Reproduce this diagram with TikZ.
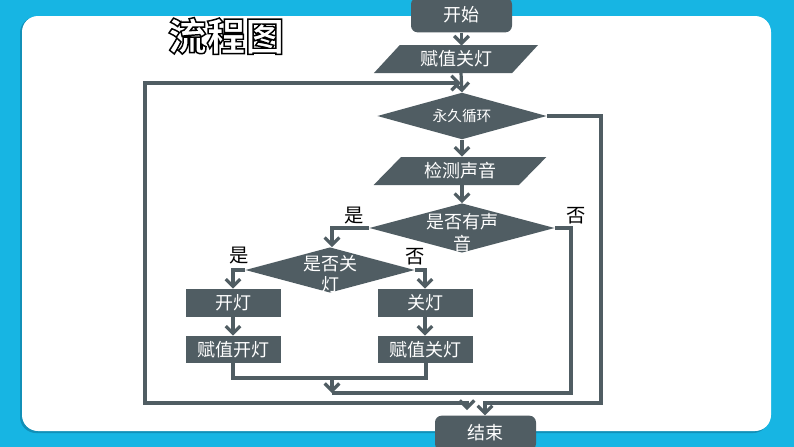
\documentclass[tikz,border=0pt]{standalone}
\usepackage{fontspec}
\newfontfamily\cjk{Noto Sans CJK SC}
\usetikzlibrary{arrows.meta,shapes.geometric,calc}
\definecolor{bgcyan}{HTML}{17B5E3}
\definecolor{shadowcyan}{HTML}{1190B8}
\definecolor{slate}{HTML}{505D63}
\newcommand{\outlinetext}[1]{\special{pdf:literal 2 Tr 1.1 w 0 G}#1\special{pdf:literal 0 Tr}}
\tikzset{
  box/.style={draw=none,fill=slate,text=white,font=\cjk\fontsize{13.5}{16}\selectfont,inner sep=0pt},
  termbox/.style={box,rounded corners=5pt},
  procbox/.style={box,minimum width=71.25pt,minimum height=21pt},
  iobox/.style={box,trapezium,trapezium left angle=45,trapezium right angle=135,trapezium stretches=true,minimum width=124pt,minimum height=21pt},
  decbox/.style={box,diamond,aspect=3.6},
  lab/.style={font=\cjk\fontsize{14.5}{16}\selectfont,text=black,inner sep=0pt},
  conn/.style={draw=slate,line width=2.4pt,line join=miter},
  arr/.style={conn,-{Straight Barb[length=5.5pt,width=11pt]}},
  arr2/.style={conn,{Straight Barb[length=5.5pt,width=11pt]}-{Straight Barb[length=5.5pt,width=11pt]}},
}
\begin{document}
\begin{tikzpicture}[x=0.75pt,y=-0.75pt]
\useasboundingbox (0,0) rectangle (794,447);
\clip (0,0) rectangle (794,447);
% background
\fill[bgcyan] (0,0) rectangle (794,447);
\fill[shadowcyan,rounded corners=12pt] (20,17) rectangle (769,433);
\fill[white,rounded corners=12pt] (22,16) rectangle (771,431);
% title
\node[font=\cjk\bfseries\fontsize{29}{32}\selectfont,text=white,inner sep=0pt] (title) at (226,36) {\outlinetext{流程图}};
% nodes
\node[termbox,minimum width=75.75pt,minimum height=26pt] (start) at (461.5,15) {开始};
\node[iobox] (a1) at (456,59) {赋值关灯};
\node[decbox,minimum width=127pt,minimum height=35pt,font=\cjk\fontsize{11}{13}\selectfont] (d1) at (462,116) {永久循环};
\node[iobox,minimum width=130pt] (det) at (460,171) {检测声音};
\node[decbox,minimum width=139pt,minimum height=37pt,
  label={[font=\cjk\fontsize{13.5}{17}\selectfont,text=white,align=center,yshift=-3.5pt]center:{是否有声\\[-1pt]音}}] (d2) at (462,228) {};
\node[decbox,minimum width=127pt,minimum height=34pt,
  label={[font=\cjk\fontsize{13.5}{17}\selectfont,text=white,align=center,yshift=-3pt]center:{是否关\\[-1pt]灯}}] (d3) at (330,270) {};
\node[procbox] (on) at (233,303) {开灯};
\node[procbox] (off) at (425,303) {关灯};
\node[procbox,minimum height=20.25pt] (ason) at (233.5,349.5) {赋值开灯};
\node[procbox,minimum height=20.25pt] (asoff) at (425.5,349.5) {赋值关灯};
\node[termbox,minimum width=75.75pt,minimum height=26pt] (end) at (485.5,433) {结束};
% labels
\node[lab] (y1) at (354,216) {是};
\node[lab] (n1) at (576,216) {否};
\node[lab] (y2) at (239,256) {是};
\node[lab] (n2) at (415,257) {否};
% coordinates
\coordinate (stemtop) at (461.5,45.5);
\coordinate (stembot) at (461,73);
\coordinate (loopin) at (461,83);
\coordinate (ltop) at (145,83);
\coordinate (lbot) at (145,403);
\coordinate (lend) at (467,403);
\coordinate (lendtip) at (467,410);
\coordinate (rtop) at (601,116);
\coordinate (rbot) at (601,403);
\coordinate (rend) at (485,403);
\coordinate (d2l) at (332,228);
\coordinate (d2r) at (571,228);
\coordinate (d2rb) at (571,393);
\coordinate (mergeend) at (332,393);
\coordinate (d3l) at (233,270);
\coordinate (d3r) at (425,270);
\coordinate (ml) at (233,378);
\coordinate (mr) at (426,378);
\coordinate (mm) at (332,378);
% connectors
\draw[arr] (start.south) -- (stemtop);
\draw[arr] (stembot) -- (d1.north);
\draw[arr2] (loopin) -- (ltop) -- (lbot) -- (lend) -- (lendtip);
\draw[arr] (d1.east) -- (rtop) -- (rbot) -- (rend) -- (end.north -| rend);
\draw[arr] (d1.south) -- (det.north -| d1.south);
\draw[arr] (det.south -| d2.north) -- (d2.north);
\draw[arr] (d2.west) -- (d2l) -- (d3.north -| d2l);
\draw[conn] (d2.east) -- (d2r) -- (d2rb) -- (mergeend);
\draw[arr] (d3.west) -- (d3l) -- (on.north);
\draw[arr] (d3.east) -- (d3r) -- (off.north);
\draw[arr] (on.south) -- (ason.north -| on.south);
\draw[arr] (off.south) -- (asoff.north -| off.south);
\draw[conn] (ason.south -| ml) -- (ml) -- (mr) -- (asoff.south -| mr);
\draw[arr] (mm) -- (mergeend);
\end{tikzpicture}
\end{document}
